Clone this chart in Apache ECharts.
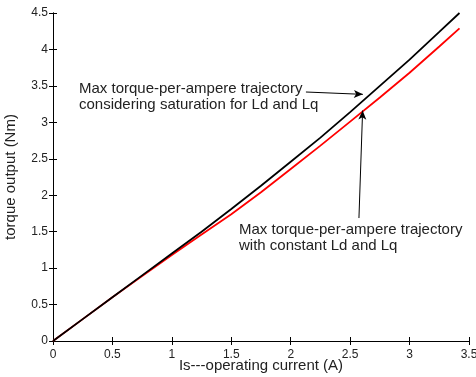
<!DOCTYPE html>
<html>
<head>
<meta charset="utf-8">
<script src="https://cdn.jsdelivr.net/npm/echarts@6/dist/echarts.min.js"></script>
<style>
  html, body { margin: 0; padding: 0; background: #fff; }
  #chart { width: 476px; height: 377px; }
</style>
</head>
<body>
<div id="chart"></div>
<script>
// current Is (A)
const currentSat = [0, 0.25, 0.5, 0.75, 1.0, 1.25, 1.5, 1.75, 2.0, 2.25, 2.5, 2.75, 3.0, 3.25, 3.42];
const torqueSat = [0, 0.3, 0.6, 0.9, 1.2, 1.5, 1.81, 2.13, 2.46, 2.79, 3.14, 3.5, 3.86, 4.24, 4.5];

const currentConst = [0, 0.25, 0.5, 0.75, 1.0, 1.25, 1.5, 1.75, 2.0, 2.25, 2.5, 2.75, 3.0, 3.25, 3.42];
const torqueConst = [0, 0.3, 0.6, 0.89, 1.18, 1.46, 1.74, 2.04, 2.36, 2.68, 3.01, 3.34, 3.68, 4.04, 4.29];

// annotation arrows, [from, to] in data units
const arrowSat = [[2.128, 3.416], [2.607, 3.384]];
const arrowConst = [[2.574, 1.687], [2.605, 3.162]];

const FONT = 'Liberation Sans, Arial, sans-serif';
const zip = (xs, ys) => xs.map((x, i) => [x, ys[i]]);

const chart = echarts.init(document.getElementById('chart'), null, { renderer: 'canvas' });

const axisCommon = {
  axisLine: { show: true, lineStyle: { color: '#000', width: 1 } },
  axisTick: { show: true, inside: true, length: 4, lineStyle: { color: '#000' } },
  splitLine: { show: false },
};

chart.setOption({
  animation: false,
  grid: { left: 53, right: 7, top: 13, bottom: 36, containLabel: false, outerBoundsMode: 'none' },
  xAxis: [
    {
      ...axisCommon,
      type: 'value', min: 0, max: 3.5, interval: 0.5,
      axisLabel: { color: '#222', fontSize: 12, fontFamily: FONT, margin: 8 },
      name: 'Is---operating current (A)',
      nameLocation: 'middle', nameGap: 17, nameMoveOverlap: false,
      nameTextStyle: { color: '#222', fontSize: 15, fontFamily: FONT },
    },
    {
      ...axisCommon,
      type: 'value', position: 'top', min: 0, max: 3.5, interval: 0.5,
      axisLabel: { show: false },
    },
  ],
  yAxis: [
    {
      ...axisCommon,
      type: 'value', min: 0, max: 4.5, interval: 0.5,
      axisLabel: { color: '#222', fontSize: 12, fontFamily: FONT, margin: 5 },
      name: 'torque output (Nm)',
      nameLocation: 'middle', nameGap: 35, nameMoveOverlap: false,
      nameTextStyle: { color: '#222', fontSize: 15, fontFamily: FONT },
    },
    {
      ...axisCommon,
      type: 'value', position: 'right', min: 0, max: 4.5, interval: 0.5,
      axisLabel: { show: false },
    },
  ],
  series: [
    {
      name: 'constant Ld and Lq',
      type: 'line',
      data: zip(currentConst, torqueConst),
      showSymbol: false,
      lineStyle: { color: '#ff0000', width: 1.8 },
      z: 2,
    },
    {
      name: 'saturation for Ld and Lq',
      type: 'line',
      data: zip(currentSat, torqueSat),
      showSymbol: false,
      lineStyle: { color: '#000', width: 1.8 },
      z: 3,
      markLine: {
        silent: true,
        symbol: ['none', 'arrow'],
        symbolSize: [6, 9],
        label: { show: false },
        lineStyle: { color: '#000', width: 1, type: 'solid' },
        data: [
          [{ coord: arrowSat[0] }, { coord: arrowSat[1] }],
          [{ coord: arrowConst[0] }, { coord: arrowConst[1] }],
        ],
      },
    },
  ],
  graphic: [
    {
      type: 'text', left: 79, top: 81,
      style: {
        text: 'Max torque-per-ampere trajectory\nconsidering saturation for Ld and Lq',
        fill: '#222', fontSize: 15, fontFamily: FONT, lineHeight: 16,
      },
    },
    {
      type: 'text', left: 239, top: 222,
      style: {
        text: 'Max torque-per-ampere trajectory\nwith constant Ld and Lq',
        fill: '#222', fontSize: 15, fontFamily: FONT, lineHeight: 16,
      },
    },
  ],
});
</script>
</body>
</html>
